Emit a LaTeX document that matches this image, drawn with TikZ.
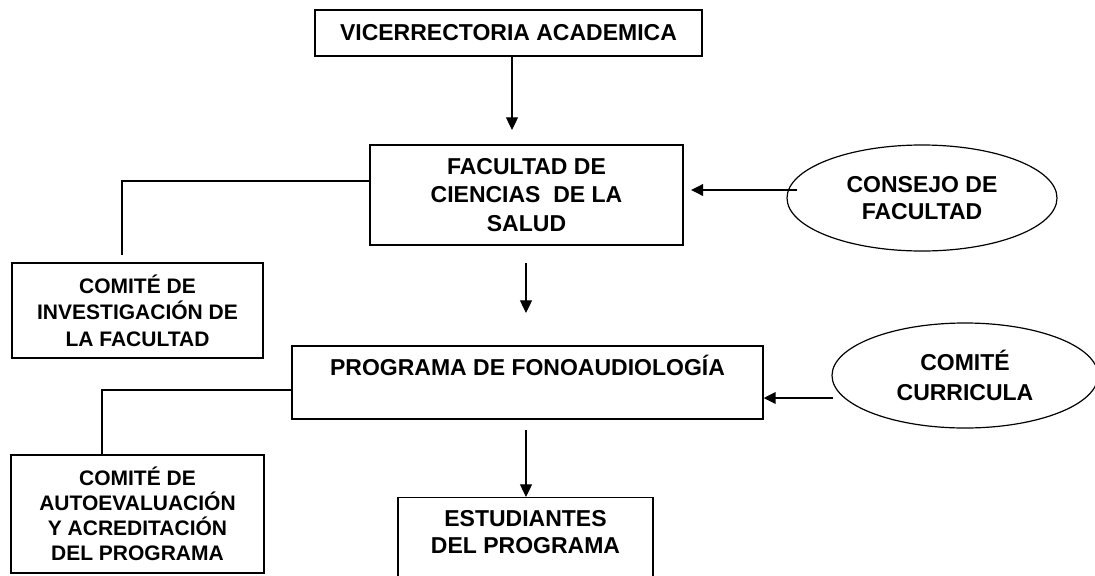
\documentclass[tikz,border=0pt]{standalone}
\usepackage{fontspec}
\setmainfont{Liberation Sans}
\usetikzlibrary{shapes.geometric,arrows.meta}
\tikzset{
  boxn/.style={draw, line width=0.9pt, rectangle, inner sep=0pt, align=center},
  elln/.style={draw, line width=0.9pt, ellipse, inner sep=0pt, align=center},
  conn/.style={line width=0.9pt},
  arr/.style={line width=0.9pt, -{Triangle[length=9.5pt,width=9pt]}},
  arrthick/.style={line width=1.8pt, -{Triangle[length=9pt,width=8.5pt]}},
}
\newcommand{\bigf}[1]{\fontsize{17.25pt}{#1}\selectfont\bfseries}
\newcommand{\smallf}[1]{\fontsize{15.75pt}{#1}\selectfont\bfseries}
\begin{document}
\begin{tikzpicture}[x=0.75pt,y=-0.75pt]
\useasboundingbox (0,0) rectangle (1095,575);
% boxes
\node[boxn, font=\bigf{21pt}, minimum width=290.25pt, minimum height=34.5pt] (vic) at (508.5,33) {VICERRECTORIA ACADEMICA};
\node[boxn, font=\bigf{21.4pt}, minimum width=234.75pt, minimum height=75pt] (fac) at (526.5,195) {FACULTAD DE\\CIENCIAS~ DE LA\\SALUD};
\node[elln, font=\bigf{20.25pt}, minimum width=202.5pt, minimum height=79.5pt] (cons) at (922,198) {CONSEJO DE\\FACULTAD};
\node[boxn, font=\smallf{19.9pt}, minimum width=188.25pt, minimum height=71.25pt] (inv) at (137.5,310.5) {COMITÉ DE\\INVESTIGACIÓN DE\\LA FACULTAD};
\node[boxn, font=\bigf{21pt}, minimum width=353.25pt, text height=21.75pt, text depth=33pt] (prog) at (527.5,382.5) {PROGRAMA DE FONOAUDIOLOGÍA};
\node[elln, font=\bigf{22.5pt}, minimum width=199.5pt, minimum height=78.75pt] (cur) at (965,375.5) {COMITÉ\\CURRICULA};
\node[boxn, font=\smallf{18.75pt}, minimum width=189.75pt, minimum height=88.5pt] (auto) at (137.5,514) {COMITÉ DE\\AUTOEVALUACIÓN\\Y ACREDITACIÓN\\DEL PROGRAMA};
\node[boxn, font=\bigf{20.25pt}, minimum width=191.25pt, text height=21.75pt, text depth=75pt, anchor=north] (est) at (525.5,497) {\begin{tabular}[t]{@{}c@{}}ESTUDIANTES\\DEL PROGRAMA\end{tabular}};
% connectors
\coordinate (a1) at (512,130);
\draw[arr] (vic.south -| a1) -- (a1);
\coordinate (a2s) at (526,263);
\coordinate (a2e) at (526,313);
\draw[arr] (a2s) -- (a2e);
\coordinate (a3s) at (526,430);
\draw[arr] (a3s) -- (est.north -| a3s);
\coordinate (a4s) at (797,190);
\coordinate (a4e) at (691,190);
\draw[arrthick] (a4s) -- (a4e);
\coordinate (a5s) at (833,398);
\draw[arrthick] (a5s) -- (prog.east |- a5s);
\coordinate (c1) at (122,255);
\draw[conn] (fac.west) ++(0,-14) -| (c1);
\coordinate (c2) at (102,455);
\draw[conn] (prog.west) ++(0,7.5) -| (c2);
\end{tikzpicture}
\end{document}
